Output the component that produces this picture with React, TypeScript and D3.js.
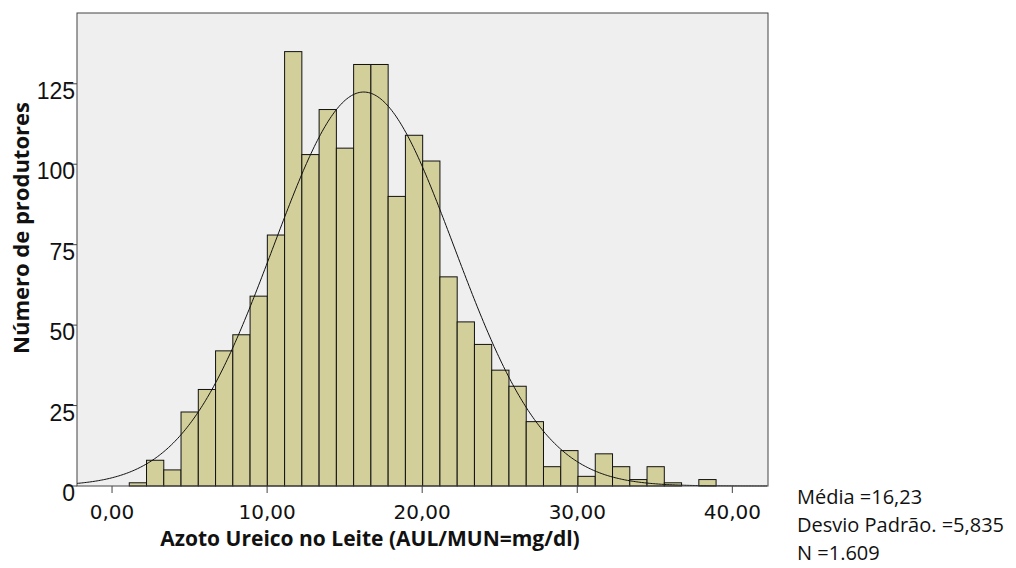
import * as d3 from "d3";
import { useEffect, useRef } from "react";

const binStart = 1.11;
const binWidth = 1.113;
const counts = [1, 8, 5, 23, 30, 42, 47, 59, 78, 135, 103, 117, 105, 131, 131, 90, 109, 101, 65, 51, 44, 36, 31, 20, 6, 11, 3, 10, 6, 2, 6, 1, 0, 2];
const xTicks = [0, 10, 20, 30, 40];
const yTicks = [0, 25, 50, 75, 100, 125];
const stats = { mean: 16.23, sd: 5.835, n: 1609 };
const statLines = ["Média =16,23", "Desvio Padrão. =5,835", "N =1.609"];

export default function App() {
  const svgRef = useRef<SVGSVGElement | null>(null);

  useEffect(() => {
    if (!svgRef.current) return;
    const svg = d3.select(svgRef.current);
    svg.selectAll("*").remove();

    const left = 77, right = 768, top = 13, bottom = 486;
    const x = d3.scaleLinear().domain([-2.26, 42.3]).range([left, right]);
    const y = d3.scaleLinear().domain([0, 147]).range([bottom, top]);

    svg.append("rect").attr("x", left).attr("y", top).attr("width", right - left).attr("height", bottom - top)
      .attr("fill", "#efefef");

    // bars
    svg.append("g").selectAll("rect").data(counts.map((c, i) => ({ c, i })).filter(d => d.c > 0)).enter()
      .append("rect")
      .attr("x", d => x(binStart + d.i * binWidth))
      .attr("width", x(binWidth) - x(0))
      .attr("y", d => y(d.c))
      .attr("height", d => bottom - y(d.c))
      .attr("fill", "#d3cf9a").attr("stroke", "#111").attr("stroke-width", 1);

    // normal curve
    const pts = d3.range(-2.26, 42.3, 0.1).map(v => [v, stats.n * binWidth * Math.exp(-0.5 * ((v - stats.mean) / stats.sd) ** 2) / (stats.sd * Math.sqrt(2 * Math.PI))]);
    svg.append("path").attr("d", d3.line().x(d => x(d[0])).y(d => y(d[1]))(pts as [number, number][]))
      .attr("fill", "none").attr("stroke", "#111").attr("stroke-width", 1);

    svg.append("rect").attr("x", left).attr("y", top).attr("width", right - left).attr("height", bottom - top)
      .attr("fill", "none").attr("stroke", "#444").attr("stroke-width", 1);

    // x axis
    const gx = svg.append("g");
    xTicks.forEach(t => {
      gx.append("line").attr("x1", x(t)).attr("x2", x(t)).attr("y1", bottom).attr("y2", bottom + 7).attr("stroke", "#444");
      gx.append("text").attr("x", x(t)).attr("y", bottom + 33).attr("text-anchor", "middle")
        .attr("font-family", "DejaVu Sans").attr("font-size", 20).attr("fill", "#111")
        .text(d3.format(".2f")(t).replace(".", ","));
    });

    // y axis
    const gy = svg.append("g");
    yTicks.forEach(t => {
      gy.append("line").attr("x1", left - 10).attr("x2", left).attr("y1", y(t)).attr("y2", y(t)).attr("stroke", "#444");
      gy.append("text").attr("x", left - 2).attr("y", y(t) + 15).attr("text-anchor", "end")
        .attr("font-family", "Liberation Sans").attr("font-size", 23).attr("fill", "#111").text(t);
    });

    svg.append("text").attr("transform", `translate(29,228) rotate(-90)`)
      .attr("text-anchor", "middle").attr("font-family", "Open Sans").attr("font-weight", "bold")
      .attr("font-size", 22).attr("fill", "#111").text("Número de produtores");
    svg.append("text").attr("x", 370).attr("y", 546).attr("text-anchor", "middle")
      .attr("font-family", "Open Sans").attr("font-weight", "bold").attr("font-size", 21).attr("fill", "#111")
      .text("Azoto Ureico no Leite (AUL/MUN=mg/dl)");

    statLines.forEach((s, i) => {
      svg.append("text").attr("x", 797).attr("y", 504 + i * 28).attr("font-family", "Open Sans")
        .attr("font-size", 20).attr("fill", "#111").text(s);
    });
  }, []);

  return <svg ref={svgRef} width={1016} height={568} style={{ position: "absolute", left: 0, top: 0 }} />;
}
